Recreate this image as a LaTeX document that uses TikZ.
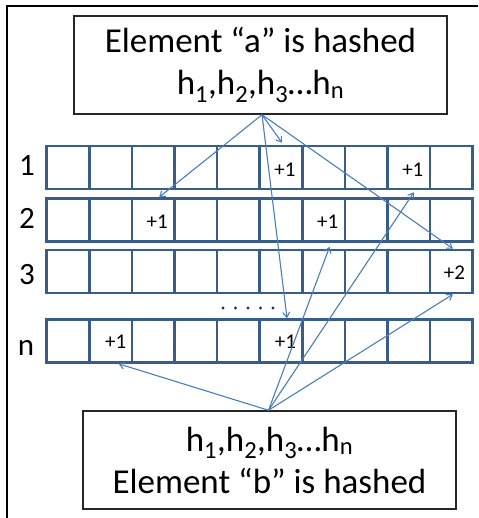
\documentclass[tikz,border=0pt]{standalone}
\usepackage{fontspec}
\setmainfont{Carlito}
\usetikzlibrary{arrows.meta,calc}
\definecolor{gridc}{HTML}{385D8A}
\definecolor{arrc}{HTML}{4A7EBB}
\definecolor{dotc}{HTML}{1F2F4F}
\begin{document}
\begin{tikzpicture}[x=1pt,y=-1pt,
  cell/.style={draw=gridc, line width=2.6pt, minimum width=42.6pt, minimum height=43pt, inner sep=0pt},
  hbox/.style={draw=black!85, line width=1.5pt, minimum width=373pt, minimum height=98pt, inner sep=0pt, align=center, font=\fontsize{35}{42}\selectfont},
  rowlab/.style={anchor=base, inner sep=0pt, font=\fontsize{31}{31}\selectfont},
  cnt/.style={inner sep=0pt, font=\fontsize{21}{21}\selectfont},
  arr/.style={draw=arrc, line width=1.1pt, -{Straight Barb[length=5pt,width=7pt]}}]
\useasboundingbox (0,0) rectangle (478,518);
\draw[line width=1.5pt] (7,518) -- (7,6) -- (478,6);
% grid rows
\foreach \r/\y in {1/167.5,2/220,3/271.5,n/341}{
  \foreach \i in {0,...,9}{
    \node[cell] (r\r-\i) at ({46.7+(\i+0.5)*42.6},\y) {};
  }}
% row labels
\node[rowlab] (lab1) at (27,176) {1};
\node[rowlab] (lab2) at (27,229) {2};
\node[rowlab] (lab3) at (27,284) {3};
\node[rowlab] (labn) at (26,355) {n};
% counters
\node[cnt] (c1a) at ($(r1-5)+(4,2)$) {+1};
\node[cnt] (c1b) at ($(r1-8)+(4,2)$) {+1};
\node[cnt] (c2a) at ($(r2-2)+(4,2)$) {+1};
\node[cnt] (c2b) at ($(r2-6)+(4,2)$) {+1};
\node[cnt] (c3a) at ($(r3-9)+(3,1)$) {+2};
\node[cnt] (cna) at ($(rn-1)+(5,1)$) {+1};
\node[cnt] (cnb) at ($(rn-5)+(4.5,1)$) {+1};
% dots
\foreach \k in {0,...,4}{\fill[dotc] ({223+\k*12.5},308) circle (1.7);}
% boxes
\node[hbox] (top) at (260.5,65) {Element “a” is hashed\\h\textsubscript{1},h\textsubscript{2},h\textsubscript{3}…h\textsubscript{n}};
\node[hbox] (bot) at (269.5,460) {h\textsubscript{1},h\textsubscript{2},h\textsubscript{3}…h\textsubscript{n}\\Element “b” is hashed};
% arrows from top box
\coordinate (ta) at ([xshift=1.5pt]top.south);
\draw[arr] (ta) -- ([xshift=6pt]r2-2.north);
\draw[arr] (ta) -- ([xshift=1pt,yshift=2pt]r1-5.north);
\draw[arr] (ta) -- ([xshift=6pt]rn-5.north);
\draw[arr] (ta) -- ([xshift=1.5pt]r3-9.north);
% arrows from bottom box
\coordinate (ba) at ([xshift=-1pt]bot.north);
\draw[arr] (ba) -- ([xshift=8pt]rn-1.south);
\draw[arr] (ba) -- ([xshift=6pt,yshift=-4pt]r2-6.south);
\draw[arr] (ba) -- ([xshift=5pt,yshift=-2pt]r1-8.south);
\draw[arr] (ba) -- ([xshift=1.5pt]r3-9.south);
\end{tikzpicture}
\end{document}
